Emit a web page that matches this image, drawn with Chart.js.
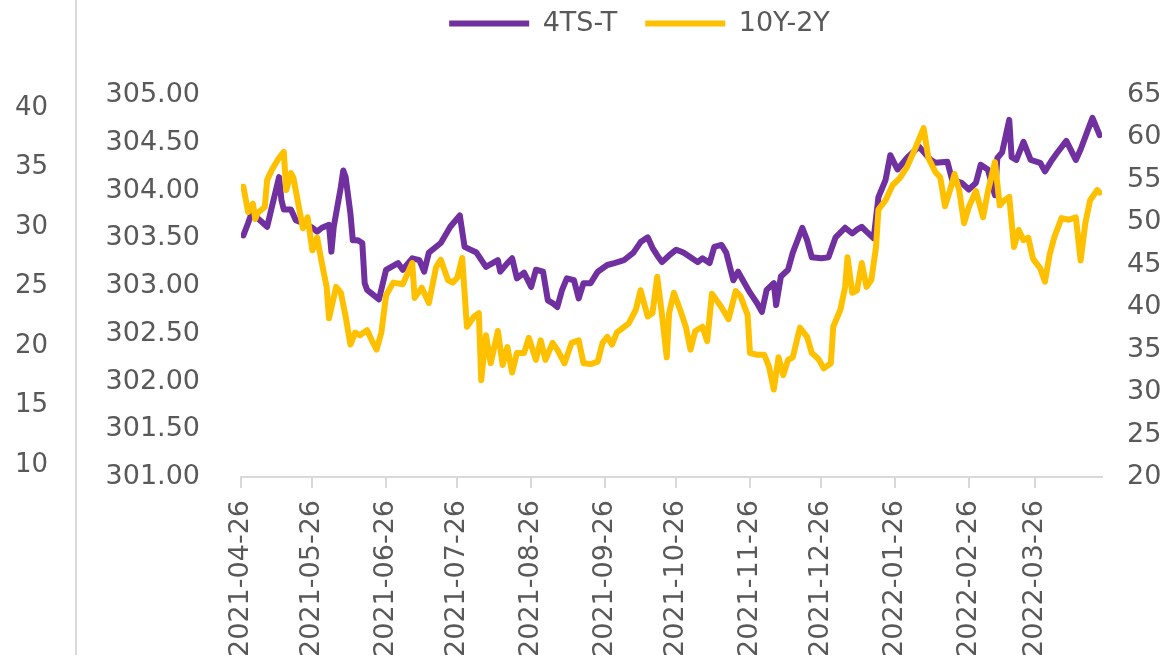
<!DOCTYPE html>
<html lang="en">
<head>
<meta charset="UTF-8" />
<title>4TS-T vs 10Y-2Y</title>
<script src="https://cdn.jsdelivr.net/npm/chart.js"></script>
<style>
  html, body { margin: 0; padding: 0; background: #fff; overflow: hidden; }
  #wrap { position: relative; width: 1173px; height: 700px; }
</style>
</head>
<body>
<div id="wrap"><canvas id="chart"></canvas></div>
<script>
// x positions are days counted from 2021-04-26
const tickDays = [0, 30, 61, 91, 122, 153, 183, 214, 244, 275, 306, 334];
const tickLabels = ['2021-04-26', '2021-05-26', '2021-06-26', '2021-07-26', '2021-08-26', '2021-09-26',
  '2021-10-26', '2021-11-26', '2021-12-26', '2022-01-26', '2022-02-26', '2022-03-26'];
const farTicks = [10, 15, 20, 25, 30, 35, 40];

// 4TS-T (left axis)
const tsDays = [1, 3, 5, 7, 11, 13, 16, 17, 18, 21, 23, 26, 30, 32, 34, 37, 38, 39, 42, 43, 44, 46, 47, 49, 51, 52, 53,
  58, 61, 66, 68, 72, 75, 77, 79, 84, 88, 92, 94, 99, 103, 108, 109, 112, 114, 116, 119, 122, 124, 127, 129, 131, 133,
  135, 137, 140, 142, 144, 147, 150, 154, 157, 161, 165, 168, 171, 173, 175, 177, 180, 183, 186, 189, 192, 194, 197,
  199, 202, 204, 207, 209, 211, 214, 217, 219, 221, 224, 225, 227, 230, 232, 236, 238, 240, 244, 247, 250, 254, 257,
  259, 261, 263, 266, 268, 271, 273, 276, 280, 285, 290, 292, 297, 299, 303, 306, 309, 311, 314, 317, 318, 320, 323,
  324, 326, 329, 332, 336, 338, 341, 343, 347, 351, 353, 356, 358, 361];
const tsValues = [303.53, 303.66, 303.80, 303.71, 303.62, 303.83, 304.14, 303.90, 303.80, 303.80, 303.69, 303.66,
  303.61, 303.57, 303.61, 303.64, 303.36, 303.62, 304.04, 304.21, 304.14, 303.76, 303.48, 303.48, 303.45, 303.03,
  302.96, 302.86, 303.17, 303.24, 303.17, 303.29, 303.27, 303.15, 303.35, 303.45, 303.62, 303.74, 303.41, 303.35,
  303.20, 303.27, 303.15, 303.24, 303.29, 303.08, 303.14, 302.99, 303.17, 303.15, 302.85, 302.82, 302.78, 302.96,
  303.08, 303.06, 302.87, 303.03, 303.03, 303.15, 303.22, 303.24, 303.27, 303.35, 303.46, 303.51, 303.40, 303.32,
  303.25, 303.32, 303.38, 303.35, 303.30, 303.25, 303.29, 303.24, 303.41, 303.43, 303.35, 303.06, 303.15, 303.06,
  302.93, 302.82, 302.73, 302.96, 303.03, 302.80, 303.10, 303.17, 303.35, 303.61, 303.48, 303.30, 303.29, 303.30,
  303.51, 303.61, 303.55, 303.59, 303.62, 303.57, 303.50, 303.93, 304.11, 304.37, 304.22, 304.34, 304.46, 304.32,
  304.29, 304.30, 304.11, 304.08, 304.01, 304.08, 304.27, 304.22, 303.95, 304.34, 304.40, 304.74, 304.35, 304.32,
  304.51, 304.32, 304.29, 304.20, 304.32, 304.39, 304.52, 304.32, 304.43, 304.63, 304.76, 304.58];

// 10Y-2Y (right axis)
const spreadDays = [1, 3, 5, 6, 7, 10, 11, 13, 16, 18, 19, 21, 22, 24, 26, 28, 30, 32, 34, 36, 37, 40, 42, 44, 46, 48,
  50, 53, 55, 57, 59, 61, 64, 68, 72, 73, 76, 79, 82, 84, 87, 89, 91, 93, 95, 98, 100, 101, 103, 105, 108, 110, 112,
  114, 116, 119, 121, 124, 126, 128, 131, 133, 136, 139, 142, 144, 147, 150, 152, 154, 156, 158, 163, 166, 168, 171,
  173, 175, 177, 179, 180, 182, 185, 187, 189, 191, 194, 196, 198, 202, 205, 208, 210, 213, 214, 217, 220, 222, 224,
  226, 228, 230, 232, 235, 238, 240, 242, 243, 245, 248, 249, 252, 254, 255, 257, 259, 261, 263, 265, 267, 268, 271,
  274, 277, 280, 283, 287, 289, 292, 294, 296, 298, 300, 302, 304, 306, 309, 312, 314, 317, 319, 321, 323, 325, 327,
  329, 331, 333, 336, 338, 340, 342, 345, 348, 351, 353, 355, 357, 360, 361];
const spreadValues = [54.2, 51.2, 52.2, 50.4, 51.1, 51.8, 55.0, 56.2, 57.6, 58.3, 53.8, 55.8, 55.3, 52.3, 49.3, 50.6,
  46.7, 48.2, 45.2, 42.4, 38.7, 42.4, 41.7, 38.9, 35.6, 37.0, 36.7, 37.3, 36.1, 35.0, 37.0, 41.4, 42.9, 42.7, 45.2,
  41.1, 42.3, 40.5, 44.7, 45.6, 43.2, 42.9, 43.5, 45.8, 37.7, 38.9, 39.3, 31.4, 36.7, 33.4, 37.2, 33.2, 35.3, 32.3,
  34.6, 34.6, 36.4, 33.8, 36.1, 33.8, 35.8, 35.0, 33.4, 35.8, 36.1, 33.4, 33.3, 33.6, 35.8, 36.5, 35.6, 37.0, 38.1,
  39.7, 42.0, 38.9, 39.3, 43.6, 39.1, 34.1, 39.3, 41.7, 39.4, 37.7, 35.0, 37.2, 37.7, 36.0, 41.6, 40.0, 38.6, 41.9,
  41.3, 39.1, 34.6, 34.4, 34.4, 33.0, 30.3, 34.1, 32.0, 33.8, 34.1, 37.6, 36.5, 34.6, 34.1, 33.8, 32.8, 33.4, 37.7,
  39.7, 42.4, 45.9, 41.7, 42.0, 45.2, 42.4, 43.2, 47.1, 51.5, 52.6, 54.4, 55.2, 56.5, 58.4, 61.1, 57.6, 55.9, 55.3,
  51.9, 53.7, 55.7, 53.7, 49.9, 51.8, 53.7, 50.6, 53.6, 57.1, 52.0, 52.6, 53.0, 47.1, 49.1, 47.9, 48.2, 45.7, 44.6,
  43.0, 46.2, 48.3, 50.5, 50.3, 50.6, 45.5, 49.9, 52.6, 53.8, 53.5];

function toPoints(days, values) {
  return days.map((d, i) => ({ x: d, y: values[i] }));
}

Chart.defaults.font.family = "'DejaVu Sans', sans-serif";
Chart.defaults.color = '#595959';

// thin grey rule on the far left, full height
const edgeLine = {
  id: 'edgeLine',
  afterDraw(chart) {
    const s = chart.scales.yFar;
    const ctx = chart.ctx;
    ctx.save();
    ctx.strokeStyle = '#d9d9d9';
    ctx.lineWidth = 2;
    ctx.beginPath();
    ctx.moveTo(s.right - 1, 0);
    ctx.lineTo(s.right - 1, chart.height);
    ctx.stroke();
    ctx.restore();
  }
};

new Chart(document.getElementById('chart'), {
  type: 'line',
  data: {
    datasets: [
      {
        label: '4TS-T',
        data: toPoints(tsDays, tsValues),
        xAxisID: 'x',
        yAxisID: 'y',
        borderColor: '#7030a0',
        backgroundColor: '#7030a0',
        borderWidth: 6,
        pointRadius: 0,
        borderCapStyle: 'round',
        borderJoinStyle: 'round',
        order: 1
      },
      {
        label: '10Y-2Y',
        data: toPoints(spreadDays, spreadValues),
        xAxisID: 'x',
        yAxisID: 'yR',
        borderColor: '#ffc000',
        backgroundColor: '#ffc000',
        borderWidth: 6,
        pointRadius: 0,
        borderCapStyle: 'round',
        borderJoinStyle: 'round',
        order: 0
      }
    ]
  },
  options: {
    responsive: true,
    maintainAspectRatio: false,
    animation: false,
    // negative padding: legend sits higher and a little right of centre, like the source
    layout: { padding: { top: -18, right: -106, left: 0, bottom: 0 } },
    plugins: {
      legend: {
        position: 'top',
        labels: {
          usePointStyle: true,
          pointStyle: 'line',
          pointStyleWidth: 80,
          padding: 28,
          font: { size: 27 },
          color: '#595959',
          sort: (a, b) => a.datasetIndex - b.datasetIndex
        }
      },
      tooltip: { enabled: false }
    },
    scales: {
      x: {
        type: 'linear',
        position: 'bottom',
        min: 0,
        max: 362,
        afterBuildTicks: s => { s.ticks = tickDays.map(v => ({ value: v })); },
        afterFit: s => { s.height = 223; },
        ticks: {
          autoSkip: false,
          minRotation: 90,
          maxRotation: 90,
          padding: 12,
          font: { size: 27 },
          callback: v => tickLabels[tickDays.indexOf(v)]
        },
        grid: { drawOnChartArea: false, drawTicks: true, tickLength: 11, color: '#d9d9d9', lineWidth: 2 },
        border: { color: '#d9d9d9', width: 2 }
      },
      xGap: {
        type: 'linear',
        position: 'top',
        ticks: { display: false },
        grid: { display: false, drawTicks: false },
        border: { display: false },
        afterFit: s => { s.height = 48; }
      },
      y: {
        position: 'left',
        weight: 0,
        min: 301,
        max: 305,
        afterFit: s => { s.width = 164; },
        ticks: { stepSize: 0.5, padding: 41, font: { size: 27 }, callback: v => v.toFixed(2) },
        grid: { display: false, drawTicks: false },
        border: { display: false }
      },
      yFar: {
        position: 'left',
        weight: 1,
        min: 8.99,
        max: 41.09,
        afterBuildTicks: s => { s.ticks = farTicks.map(v => ({ value: v })); },
        afterFit: s => { s.width = 77; },
        ticks: { padding: 29, font: { size: 26 } },
        grid: { display: false, drawTicks: false },
        border: { display: false }
      },
      yR: {
        position: 'right',
        min: 20,
        max: 65,
        afterFit: s => { s.width = 177; },
        ticks: { stepSize: 5, padding: 25, font: { size: 27 } },
        grid: { display: false, drawTicks: false },
        border: { display: false }
      }
    }
  },
  plugins: [edgeLine]
});
</script>
</body>
</html>
